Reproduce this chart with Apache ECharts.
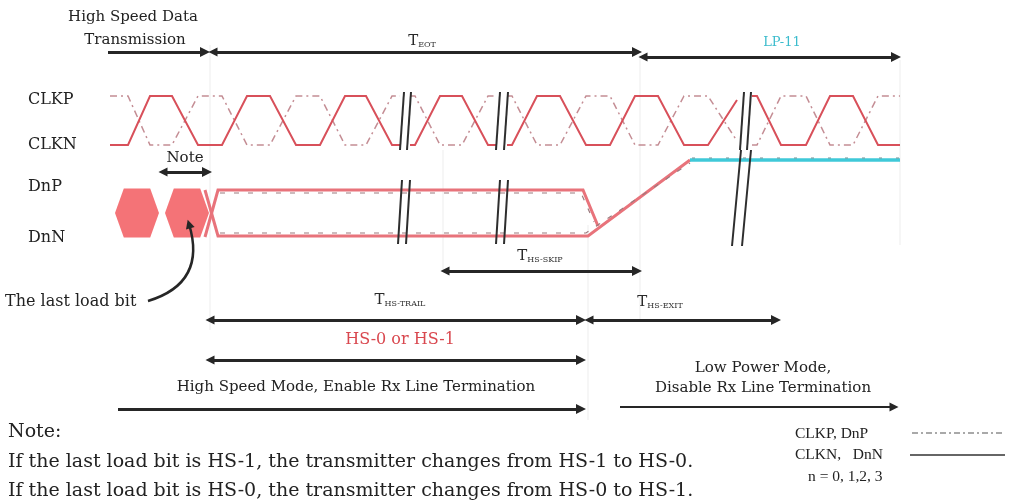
<!DOCTYPE html>
<html><head><meta charset="utf-8">
<script src="https://cdn.jsdelivr.net/npm/echarts@6/dist/echarts.min.js"></script>
<style>html,body{margin:0;padding:0;background:#fff}#c{width:1013px;height:501px}</style>
</head><body><div id="c"></div>
<script>
// ---- waveform data (diagram units: x to the right, y downward) ----
const clkSolidSegs = [
  [[110,145],[128,145],[150,96],[172,96],[198,145],[222,145],[247,96],[270,96],[296,145],[320,145],[345,96],[366,96],[392,145],[400,145]],
  [[410,145],[415,145],[440,96],[462,96],[488,145],[497,145]],
  [[507,145],[512,145],[537,96],[560,96],[586,145],[610,145],[635,96],[658,96],[684,145],[708,145],[737,100]],
  [[752,96],[757,96],[781,145],[806,145],[830,96],[853,96],[878,145],[900,145]]
];
const clkDashSegs = [
  [[110,96],[128,96],[150,145],[172,145],[198,96],[222,96],[247,145],[270,145],[296,96],[320,96],[345,145],[366,145],[392,96],[400,96]],
  [[410,96],[415,96],[440,145],[462,145],[488,96],[497,96]],
  [[507,96],[512,96],[537,145],[560,145],[586,96],[610,96],[635,145],[658,145],[684,96],[708,96],[737,141]],
  [[752,145],[757,145],[781,96],[806,96],[830,145],[853,145],[878,96],[900,96]]
];
const dataTop = [[205,237],[218,190],[583,190],[598,226]];
const dataBottom = [[205,190],[218,236],[588,236],[690,160]];
const dataTopDash = [[220,193],[581,193],[594,222]];
const dataBottomDash = [[220,233],[586,233],[690,163]];
const lp11 = [[690,160],[900,160]];
const lastBits = [[137,213],[187,213]];
const breakMarks = [
  [[404,92],[400,150]],[[411,92],[407,150]],
  [[500,92],[496,150]],[[508,92],[504,150]],
  [[744,92],[740,150]],[[751,92],[747,150]],
  [[402,180],[398,244]],[[410,180],[406,244]],
  [[500,180],[496,244]],[[508,180],[504,244]],
  [[741,150],[732,246]],[[751,150],[742,246]]
];
const guides = [
  [[210,45],[210,330]],[[443,150],[443,270]],[[588,225],[588,420]],[[640,55],[640,320]],[[900,60],[900,245]]
];
// ---- interval arrows ----
const doubleArrows = [
  [[213,52],[637,52]],[[643,57],[896,57]],[[163,172],[207,172]],
  [[445,271],[637,271]],[[210,320],[581,320]],[[589,320],[776,320]],[[210,360],[581,360]]
];
const singleArrows = [[[108,52],[205,52]],[[118,409],[581,409]]];
const thinArrows = [[[620,407],[894,407]]];
const curvedArrow = [[[148,301],[189,224]]];
// ---- texts ----
const centerTexts = ['High Speed Data','Transmission','{t|T}{s|EOT}','{c|LP-11}','Note','{t|T}{s|HS-SKIP}','{t|T}{s|HS-TRAIL}','{t|T}{s|HS-EXIT}','{r|HS-0 or HS-1}','High Speed Mode, Enable Rx Line Termination','Low Power Mode,','Disable Rx Line Termination'];
const centerPos = [[133,17],[135,40],[422,41],[782,43],[185,158],[540,256],[400,300],[660,302],[400,340],[356,387],[763,368],[763,388]];
const leftTexts = ['CLKP','CLKN','DnP','DnN','The last load bit'];
const leftPos = [[28,100],[28,145],[28,187],[28,238],[5,302]];
const noteTexts = ['Note:','If the last load bit is HS-1, the transmitter changes from HS-1 to HS-0.','If the last load bit is HS-0, the transmitter changes from HS-0 to HS-1.'];
const notePos = [[8,432],[8,462],[8,491]];
const legendTexts = ['CLKP, DnP','CLKN,   DnN','n = 0, 1,2, 3'];
const legendPos = [[795,434],[795,455],[808,477]];
const legendDash = [[[912,433],[1005,433]]];
const legendSolid = [[[910,455],[1005,455]]];

const SERIF = '"DejaVu Serif","Liberation Serif",serif';
const TIMES = '"Liberation Serif","DejaVu Serif",serif';
const chart = echarts.init(document.getElementById('c'), null, {renderer:'canvas'});
const segs = a => a.map(c => ({coords:c}));
const linesS = (data, style, extra) => Object.assign({type:'lines', coordinateSystem:'cartesian2d', polyline:true, silent:true, z:3, data:segs(data), lineStyle:Object.assign({opacity:1}, style), symbol:['none','none']}, extra||{});
const textS = (texts, pos, label) => ({
  type:'scatter', symbolSize:0, silent:true, z:4, itemStyle:{opacity:1},
  data: texts.map((t,i)=>({value:pos[i], name:t})),
  label: Object.assign({show:true, formatter:p=>p.name, fontFamily:SERIF, color:'#222'}, label)
});
const rich = {
  t:{fontSize:15, fontFamily:SERIF, color:'#2a2a2a', lineHeight:16, verticalAlign:'bottom'},
  s:{fontSize:8, fontFamily:SERIF, color:'#333', lineHeight:16, verticalAlign:'bottom'},
  c:{fontSize:13, fontFamily:SERIF, color:'#3cbccd'},
  r:{fontSize:16, fontFamily:SERIF, color:'#d9484f'}
};
chart.setOption({
  animation:false,
  grid:{left:0,right:0,top:0,bottom:0},
  xAxis:{type:'value',min:0,max:1013,show:false},
  yAxis:{type:'value',min:0,max:501,inverse:true,show:false},
  series:[
    linesS(guides,{color:'#ededed',width:1},{z:1}),
    linesS(clkDashSegs,{color:'#c48d94',width:1.5,type:[7,4,2,4]}),
    linesS(clkSolidSegs,{color:'#d8505a',width:2}),
    linesS([dataTop,dataBottom],{color:'#e8737b',width:3}),
    linesS([dataTopDash,dataBottomDash],{color:'#9c7a7e',width:1.2,type:[5,9]}),
    linesS([lp11],{color:'#3fc9d8',width:3.5}),
    linesS([[[692,158],[900,158]]],{color:'#6f8f93',width:1,type:[3,14]}),
    {type:'scatter', silent:true, z:1, data:lastBits, symbol:'path://M0,50L20,0L80,0L100,50L80,100L20,100Z', symbolSize:[44,49], symbolKeepAspect:false, itemStyle:{color:'#f47377', opacity:1}},
    linesS(breakMarks,{color:'#2e2e2e',width:2}),
    linesS(doubleArrows,{color:'#262626',width:3},{polyline:false, symbol:['triangle','triangle'], symbolSize:[9,10]}),
    linesS(singleArrows,{color:'#262626',width:3},{polyline:false, symbol:['none','triangle'], symbolSize:[9,10]}),
    linesS(thinArrows,{color:'#262626',width:2},{polyline:false, symbol:['none','triangle'], symbolSize:[8,9]}),
    linesS(curvedArrow,{color:'#262626',width:2.5,curveness:-0.5},{polyline:false, z:5, symbol:['none','triangle'], symbolSize:[8,9]}),
    linesS(legendDash,{color:'#555',width:1.2,type:[6,3,2,3]}),
    linesS(legendSolid,{color:'#333',width:1.3}),
    textS(centerTexts, centerPos, {position:'inside', fontSize:15, rich}),
    textS(leftTexts, leftPos, {position:'right', distance:0, fontSize:16}),
    textS(noteTexts, notePos, {position:'right', distance:0, fontSize:19}),
    textS(legendTexts, legendPos, {position:'right', distance:0, fontSize:15.5, fontFamily:TIMES})
  ]
});
</script></body></html>
